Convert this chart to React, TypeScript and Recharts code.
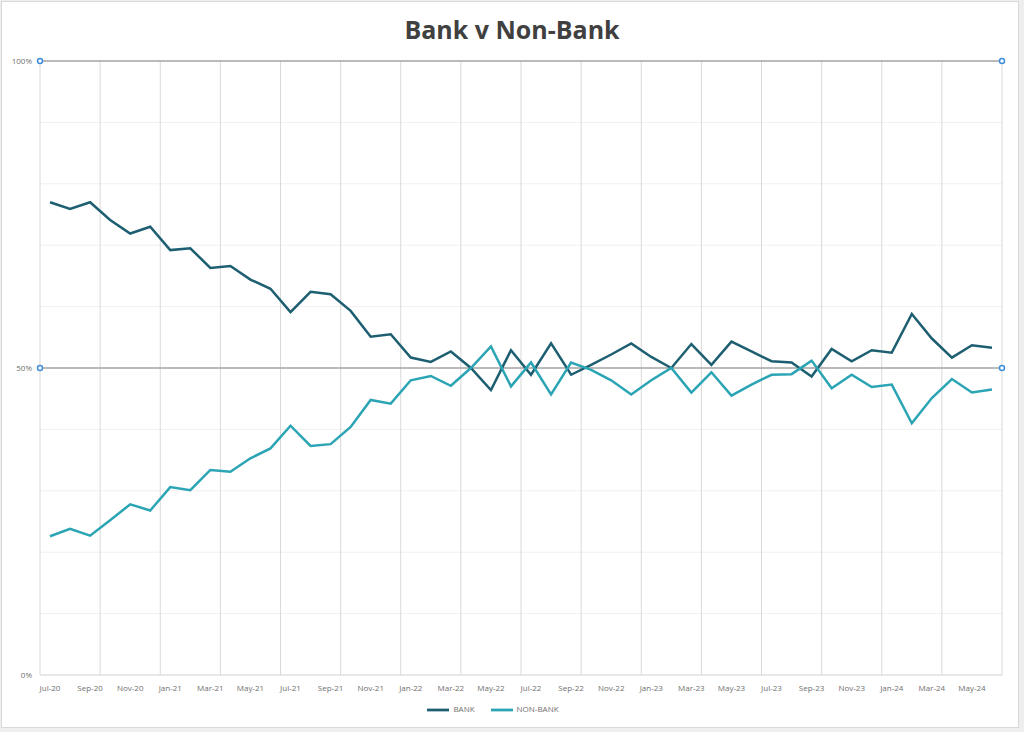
import {
  LineChart,
  Line,
  XAxis,
  YAxis,
  CartesianGrid,
  ReferenceLine,
  Legend,
} from "recharts";

const months = [
  "Jul-20", "Aug-20", "Sep-20", "Oct-20", "Nov-20", "Dec-20",
  "Jan-21", "Feb-21", "Mar-21", "Apr-21", "May-21", "Jun-21",
  "Jul-21", "Aug-21", "Sep-21", "Oct-21", "Nov-21", "Dec-21",
  "Jan-22", "Feb-22", "Mar-22", "Apr-22", "May-22", "Jun-22",
  "Jul-22", "Aug-22", "Sep-22", "Oct-22", "Nov-22", "Dec-22",
  "Jan-23", "Feb-23", "Mar-23", "Apr-23", "May-23", "Jun-23",
  "Jul-23", "Aug-23", "Sep-23", "Oct-23", "Nov-23", "Dec-23",
  "Jan-24", "Feb-24", "Mar-24", "Apr-24", "May-24", "Jun-24",
];

const bank = [
  77.0, 75.9, 77.0, 74.1, 71.9, 73.0, 69.2, 69.5, 66.3, 66.6, 64.4, 62.9,
  59.1, 62.4, 62.0, 59.3, 55.1, 55.5, 51.7, 51.0, 52.7, 50.0, 46.4, 52.9,
  48.9, 54.0, 48.9, 50.5, 52.2, 54.0, 51.8, 50.0, 53.9, 50.5, 54.3, 52.7,
  51.1, 50.9, 48.6, 53.1, 51.1, 52.9, 52.5, 58.8, 54.8, 51.7, 53.7, 53.3,
];

const nonBank = [
  22.6, 23.8, 22.7, 25.2, 27.8, 26.8, 30.6, 30.1, 33.4, 33.1, 35.3, 36.9,
  40.6, 37.3, 37.6, 40.4, 44.8, 44.2, 48.0, 48.7, 47.1, 50.0, 53.5, 47.0,
  50.9, 45.7, 50.9, 49.7, 48.0, 45.7, 48.0, 50.0, 46.0, 49.3, 45.5, 47.3,
  48.9, 49.0, 51.2, 46.7, 48.9, 46.9, 47.3, 41.0, 45.1, 48.2, 46.0, 46.5,
];

const yTicks = [0, 10, 20, 30, 40, 50, 60, 70, 80, 90, 100];
const yLabelled = [0, 50, 100];

const data = months.map((month, i) => ({
  month,
  BANK: bank[i],
  "NON-BANK": nonBank[i],
}));

const FONT = "'Open Sans', 'Noto Sans', sans-serif";
const TEXT = "#707070";

// gridline with the little blue selection handles at both ends
function HandleLine(props: any) {
  const { x1, y1, x2, y2 } = props;
  return (
    <g>
      <line x1={x1} y1={y1} x2={x2} y2={y2} stroke="#a6a6a6" strokeWidth={1.5} />
      <circle cx={x1} cy={y1} r={2.5} fill="#fff" stroke="#3f8edb" strokeWidth={1.5} />
      <circle cx={x2} cy={y2} r={2.5} fill="#fff" stroke="#3f8edb" strokeWidth={1.5} />
    </g>
  );
}

export default function App() {
  return (
    <div style={{ position: "absolute", left: 0, top: 0, width: 1024, height: 732, background: "#eeeeee" }}>
      <div
        style={{
          position: "absolute",
          left: 1,
          top: 1,
          width: 1016,
          height: 725,
          background: "#fff",
          border: "1px solid #d9d9d9",
        }}
      />
      <div
        style={{
          position: "absolute",
          left: 0,
          top: 12,
          width: 1024,
          textAlign: "center",
          fontFamily: FONT,
          fontWeight: 700,
          fontSize: 25,
          color: "#404040",
        }}
      >
        Bank v Non-Bank
      </div>
      <div style={{ position: "absolute", left: 0, top: 0 }}>
        <LineChart
          width={1024}
          height={732}
          data={data}
          margin={{ top: 61, right: 22, left: 0, bottom: 15 }}
        >
          <CartesianGrid stroke="#f0f0f0" vertical={false} />
          <CartesianGrid
            stroke="#d9d9d9"
            horizontal={false}
            verticalCoordinatesGenerator={({ offset }: any) =>
              Array.from({ length: 17 }, (_, i) => offset.left + (i * offset.width) / 16)
            }
          />
          <XAxis
            dataKey="month"
            scale="band"
            interval={1}
            tickLine={false}
            axisLine={false}
            tickMargin={4}
            height={20}
            tick={{ fontSize: 8, fill: TEXT, fontFamily: FONT }}
          />
          <YAxis
            domain={[0, 100]}
            ticks={yTicks}
            width={40}
            tickLine={false}
            axisLine={false}
            tick={{ fontSize: 8, fill: TEXT, fontFamily: FONT }}
            tickFormatter={(v: number) => (yLabelled.includes(v) ? `${v}%` : "")}
          />
          <ReferenceLine y={0} stroke="#d9d9d9" />
          <ReferenceLine y={50} shape={HandleLine} />
          <ReferenceLine y={100} shape={HandleLine} />
          <Line
            type="linear"
            dataKey="BANK"
            stroke="#1d5f71"
            strokeWidth={2.5}
            dot={false}
            isAnimationActive={false}
          />
          <Line
            type="linear"
            dataKey="NON-BANK"
            stroke="#2ba4b4"
            strokeWidth={2.5}
            dot={false}
            isAnimationActive={false}
          />
          <Legend
            verticalAlign="bottom"
            align="center"
            iconType="plainline"
            iconSize={22}
            wrapperStyle={{ fontFamily: FONT, fontSize: 8, bottom: 11 }}
            formatter={(value: string) => (
              <span style={{ color: TEXT, marginRight: 6 }}>{value}</span>
            )}
          />
        </LineChart>
      </div>
    </div>
  );
}
